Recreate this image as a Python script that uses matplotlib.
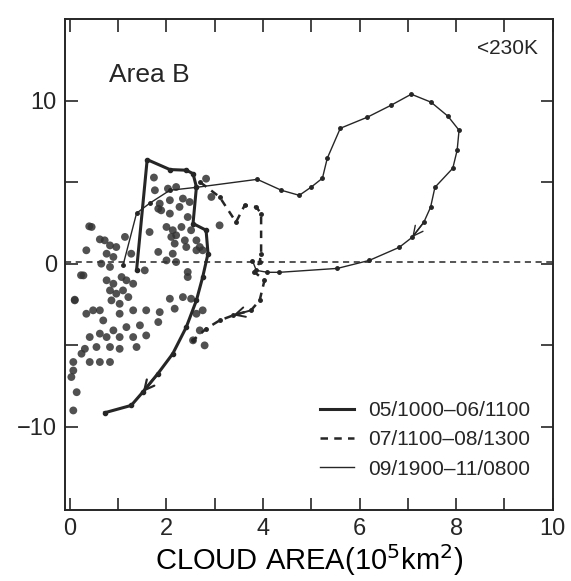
import matplotlib
matplotlib.use("Agg")
import matplotlib.pyplot as plt
from matplotlib.lines import Line2D

# trajectory 05/1000-06/1100 (thick solid)
thick_x = [1.38, 1.60, 2.07, 2.41, 2.55, 2.62, 2.55, 2.82, 2.86, 2.75,
           2.62, 2.41, 2.13, 1.82, 1.51, 1.27, 0.72]
thick_y = [-0.40, 6.39, 5.78, 5.74, 5.53, 4.71, 2.47, 2.06, 0.63, -0.81,
           -2.24, -3.88, -5.51, -6.74, -7.86, -8.68, -9.13]
thick_arrow = 14

# trajectory 07/1100-08/1300 (dashed)
dash_x = [2.70, 3.10, 3.44, 3.62, 3.86, 3.96, 3.96, 3.93, 3.82, 4.03,
          3.93, 3.75, 3.38, 3.10, 2.82, 2.55]
dash_y = [5.00, 4.10, 2.56, 3.59, 3.48, 3.08, 0.63, 0.11, -0.50, -1.01,
          -2.24, -2.85, -3.16, -3.47, -3.98, -4.69]
dash_arrow = 12

# trajectory 09/1900-11/0800 (thin solid)
thin_x = [1.10, 1.38, 1.65, 2.07, 2.62, 3.88, 4.38, 4.75, 5.00, 5.23,
          5.33, 5.60, 6.16, 6.65, 7.07, 7.48, 7.83, 8.06, 8.02, 7.93,
          7.56, 7.47, 7.33, 7.09, 6.82, 6.20, 5.54, 4.34, 4.09, 3.86, 3.78]
thin_y = [-0.09, 3.10, 3.71, 4.51, 4.69, 5.18, 4.51, 4.20, 4.71, 5.25,
          6.47, 8.31, 8.99, 9.72, 10.40, 9.91, 9.05, 8.19, 6.96, 5.86,
          4.69, 3.47, 2.55, 1.63, 1.01, 0.21, -0.28, -0.52, -0.52, -0.40, 0.20]
thin_arrow = 23

# scattered hourly points
dots_x = [1.74, 1.76, 2.03, 2.20, 2.82, 2.34, 2.07, 1.86, 1.83, 1.89,
          2.48, 2.27, 2.07, 2.44, 1.65, 2.00, 2.13, 2.20, 2.17, 2.10,
          2.31, 2.51, 2.38, 2.41, 2.62, 2.69, 1.83, 2.13, 2.00, 2.62,
          2.75, 1.55, 2.44, 2.44, 2.20, 2.93, 3.10,
          0.45, 0.34, 0.72, 1.14, 0.83, 0.76, 0.96, 0.90, 1.27, 0.28,
          0.65, 0.83, 0.76, 0.90, 1.07, 1.17, 1.31, 0.83, 0.96, 1.10,
          1.21, 0.86, 1.03, 1.31, 1.58, 1.86, 2.17, 2.07, 2.34, 2.51,
          0.10, 0.48, 0.62, 0.34, 0.69, 1.03, 1.17, 1.45, 1.83, 0.90,
          0.62, 0.41, 0.76, 1.03, 1.31, 1.58, 1.38, 1.03, 0.83, 0.55,
          0.31, 0.24, 0.41, 0.62, 0.83, 0.07, 0.07, 0.03, 0.14, 0.07,
          2.75, 2.62, 2.69, 2.55, 2.79, 0.40, 0.62, 0.23, 0.10]
dots_y = [5.29, 4.51, 4.61, 4.71, 5.22, 4.00, 3.90, 3.69, 3.38, 3.28,
          3.79, 3.49, 3.08, 2.87, 1.95, 2.26, 2.06, 1.75, 1.24, 1.65,
          2.26, 2.06, 1.44, 1.03, 1.44, 1.03, 0.73, 0.62, 0.21, 0.83,
          0.83, -0.40, -0.50, -0.81, 0.11, 4.10, 2.36,
          2.26, 0.83, 1.44, 1.65, 1.13, 0.62, 1.03, 0.42, 0.62, -0.71,
          0.01, -0.19, -1.01, -1.22, -0.81, -1.01, -1.22, -1.63, -1.83, -1.63,
          -2.04, -2.24, -2.45, -2.85, -2.85, -2.96, -2.75, -2.14, -2.04, -2.14,
          -2.24, -2.85, -2.85, -3.06, -3.47, -3.06, -3.88, -3.77, -3.57, -4.08,
          -4.28, -4.49, -4.49, -4.49, -4.49, -4.39, -5.10, -5.21, -5.10, -5.10,
          -5.21, -5.51, -6.02, -6.02, -6.02, -6.02, -6.54, -6.94, -7.87, -8.99,
          -2.85, -3.06, -4.08, -4.69, -5.00, 2.30, 1.50, -0.70, -2.20]

legend_labels = ["05/1000–06/1100", "07/1100–08/1300", "09/1900–11/0800"]

ink = "#262626"


def add_arrow(ax, xs, ys, i, lw, ls="-"):
    ax.annotate("", xy=(xs[i], ys[i]), xytext=(xs[i - 1], ys[i - 1]),
                arrowprops=dict(arrowstyle="->,head_length=0.7,head_width=0.35",
                                color=ink, lw=lw, linestyle=ls,
                                shrinkA=0, shrinkB=0))


def main():
    plt.rcParams["font.family"] = ["Liberation Sans", "DejaVu Sans"]
    plt.rcParams["text.color"] = ink
    plt.rcParams["xtick.color"] = ink
    plt.rcParams["ytick.color"] = ink

    fig = plt.figure(figsize=(5.71, 5.81), dpi=100)
    ax = fig.add_axes([0.114, 0.122, 0.854, 0.845])

    ax.axhline(0.1, color=ink, lw=1.1, ls=(0, (4, 3)))

    ax.scatter(dots_x, dots_y, s=32, color="#333333", alpha=0.85,
               edgecolors="none", zorder=2)

    ax.plot(thick_x, thick_y, color=ink, lw=2.2, marker="o", ms=3, zorder=3)
    ax.plot(dash_x, dash_y, color=ink, lw=1.8, ls=(0, (3, 2.5)),
            marker="o", ms=2.5, zorder=3)
    ax.plot(thin_x, thin_y, color=ink, lw=1.0, marker="o", ms=2.5, zorder=3)

    add_arrow(ax, thick_x, thick_y, thick_arrow, 1.6)
    add_arrow(ax, dash_x, dash_y, dash_arrow, 1.4)
    add_arrow(ax, thin_x, thin_y, thin_arrow, 1.0)

    ax.set_xlim(-0.1, 10)
    ax.set_ylim(-15.1, 15.0)

    ax.set_xticks([0, 2, 4, 6, 8, 10])
    ax.set_xticks([1, 3, 5, 7, 9], minor=True)
    ax.set_yticks([-10, -5, 0, 5, 10])
    ax.set_yticklabels(["−10", "", "0", "", "10"])
    ax.tick_params(which="both", direction="in", length=9, width=1.2,
                   top=True, right=True, labelsize=17, pad=6)

    for sp in ax.spines.values():
        sp.set_linewidth(1.4)
        sp.set_color(ink)

    ax.set_xlabel("CLOUD AREA(10$^5$km$^2$)", fontsize=21, labelpad=1)

    ax.text(0.8, 11.6, "Area B", fontsize=19, va="center", ha="left")
    ax.text(9.7, 13.2, "<230K", fontsize=15, va="center", ha="right")

    handles = [Line2D([], [], color=ink, lw=2.2),
               Line2D([], [], color=ink, lw=1.8, ls=(0, (3, 2.5))),
               Line2D([], [], color=ink, lw=1.0)]
    ax.legend(handles, legend_labels, loc="lower right",
              bbox_to_anchor=(0.954, 0.064), frameon=False, fontsize=15,
              handlelength=1.6, handletextpad=0.7, labelspacing=0.5,
              borderpad=0, borderaxespad=0)

    fig.savefig("out.png", dpi=100, facecolor="white")


if __name__ == "__main__":
    main()
